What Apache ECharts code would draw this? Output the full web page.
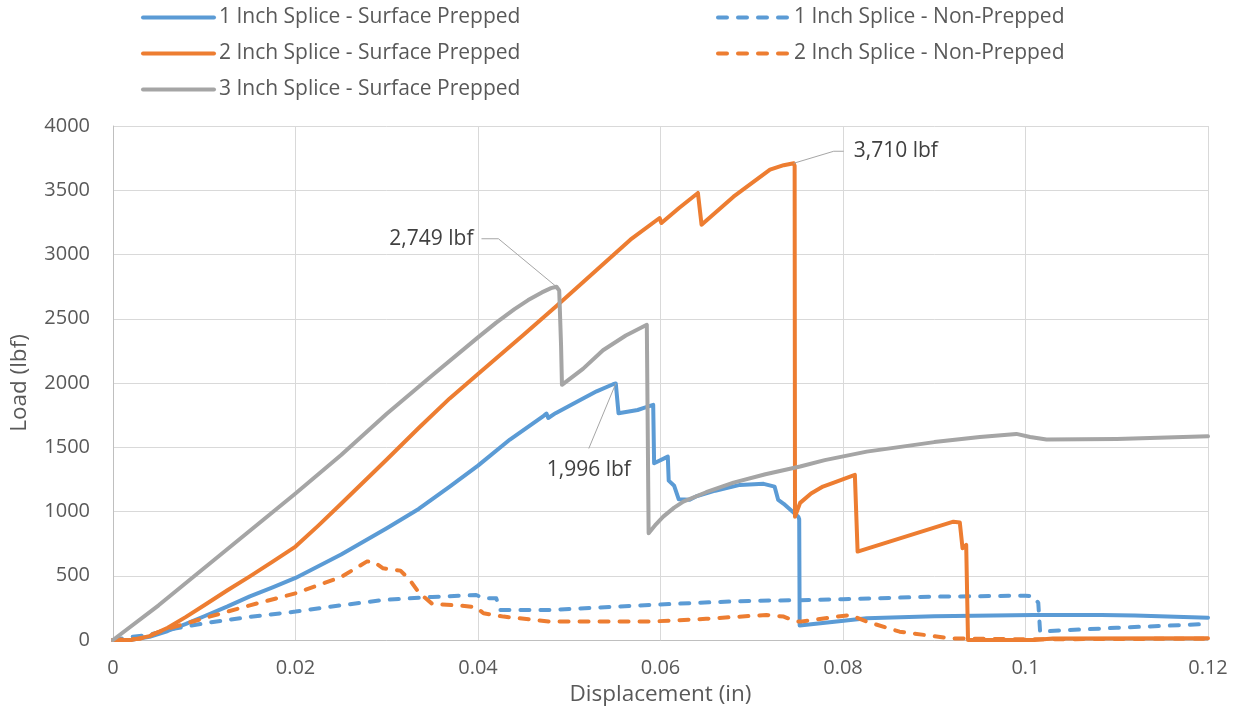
<!DOCTYPE html>
<html>
<head>
<meta charset="utf-8">
<script src="https://cdn.jsdelivr.net/npm/echarts@6/dist/echarts.min.js"></script>
<style>
  html, body { margin: 0; padding: 0; background: #ffffff; }
  #chart { width: 1242px; height: 712px; }
</style>
</head>
<body>
<div id="chart"></div>
<script>
// Splice pull tests: load vs. displacement, one curve per specimen.
const seriesNames = [
  '1 Inch Splice - Surface Prepped',
  '1 Inch Splice - Non-Prepped',
  '2 Inch Splice - Surface Prepped',
  '2 Inch Splice - Non-Prepped',
  '3 Inch Splice - Surface Prepped'
];

// displacement (in), load (lbf)
const oneInchPrepped = [
  [0, 0], [0.002, 2], [0.004, 25], [0.006, 70], [0.008, 125], [0.01, 185],
  [0.0125, 260], [0.015, 340], [0.0175, 410], [0.02, 483], [0.025, 665],
  [0.03, 870], [0.0335, 1020], [0.0369, 1194], [0.04, 1357], [0.0435, 1560],
  [0.0472, 1745], [0.0475, 1762], [0.0477, 1728], [0.0485, 1765], [0.051, 1860],
  [0.053, 1935], [0.0548, 1990], [0.0551, 1996], [0.0554, 1765], [0.0575, 1790],
  [0.0581, 1804], [0.0592, 1830], [0.0593, 1376], [0.0608, 1427], [0.0609, 1240],
  [0.0615, 1200], [0.062, 1095], [0.0632, 1092], [0.064, 1120], [0.066, 1162],
  [0.0687, 1207], [0.0713, 1215], [0.0725, 1194], [0.0729, 1090], [0.0735, 1060],
  [0.0751, 960], [0.0752, 940], [0.07525, 112], [0.0753, 117], [0.0826, 169],
  [0.09, 185], [0.1009, 195], [0.1083, 195], [0.112, 190], [0.12, 174]
];

const oneInchNonPrepped = [
  [0, 0], [0.002, 25], [0.004, 40], [0.0059, 78], [0.01, 130], [0.015, 180],
  [0.02, 221], [0.025, 270], [0.0296, 311], [0.035, 335], [0.0398, 350],
  [0.0406, 325], [0.042, 325], [0.0424, 234], [0.048, 234], [0.0588, 273],
  [0.066, 295], [0.07, 305], [0.0753, 310], [0.08, 318], [0.0899, 337],
  [0.1, 345], [0.1008, 340], [0.1014, 290], [0.1016, 65], [0.104, 75],
  [0.11, 95], [0.12, 125]
];

const twoInchPrepped = [
  [0, 0], [0.002, 0], [0.004, 30], [0.006, 95], [0.008, 180], [0.01, 270],
  [0.0125, 385], [0.015, 495], [0.0175, 610], [0.02, 727], [0.0225, 890],
  [0.025, 1060], [0.03, 1405], [0.0335, 1650], [0.0369, 1880], [0.04, 2070],
  [0.045, 2375], [0.0486, 2600], [0.053, 2880], [0.0567, 3115],
  [0.0599, 3284], [0.0601, 3245], [0.062, 3360], [0.0641, 3479], [0.0645, 3232],
  [0.068, 3450], [0.072, 3660], [0.0735, 3695], [0.0746, 3710], [0.0747, 3690],
  [0.07474, 960], [0.0753, 1067], [0.0765, 1140], [0.0778, 1194], [0.079, 1225],
  [0.0813, 1285], [0.0816, 688], [0.0921, 921], [0.0928, 915], [0.093, 900],
  [0.0931, 714], [0.0935, 740], [0.0937, 0], [0.101, 0], [0.103, 12], [0.12, 13]
];

const twoInchNonPrepped = [
  [0, 0], [0.003, 10], [0.0059, 85], [0.01, 170], [0.015, 270], [0.02, 363],
  [0.025, 490], [0.0278, 610], [0.0285, 612], [0.0296, 558], [0.0315, 540],
  [0.0325, 470], [0.0335, 370], [0.035, 280], [0.038, 268], [0.0398, 255],
  [0.0406, 208], [0.0428, 182], [0.0479, 143], [0.0588, 143], [0.065, 165],
  [0.0716, 195], [0.0735, 182], [0.0749, 143], [0.0753, 143], [0.0808, 195],
  [0.0826, 143], [0.0862, 65], [0.0917, 13], [0.1, 5], [0.11, 8], [0.12, 10]
];

const threeInchPrepped = [
  [0, 0], [0.005, 270], [0.01, 560], [0.015, 850], [0.02, 1140], [0.025, 1440],
  [0.03, 1760], [0.035, 2060], [0.04, 2355], [0.042, 2470], [0.044, 2575],
  [0.0455, 2645], [0.047, 2705], [0.048, 2738], [0.0486, 2749], [0.0489, 2720],
  [0.0491, 2300], [0.0492, 1986], [0.0515, 2110], [0.0537, 2255], [0.0562, 2370],
  [0.0585, 2453], [0.0587, 831], [0.0595, 900], [0.0603, 960], [0.0615, 1030],
  [0.0625, 1077], [0.065, 1150], [0.068, 1225], [0.0715, 1290], [0.0753, 1350],
  [0.078, 1400], [0.0826, 1466], [0.09, 1540], [0.095, 1580], [0.099, 1604],
  [0.1005, 1580], [0.1023, 1560], [0.11, 1565], [0.12, 1585]
];

const xTicks = { min: 0, max: 0.12, interval: 0.02 };
const yTicks = { min: 0, max: 4000, interval: 500 };

const seriesData = [oneInchPrepped, oneInchNonPrepped, twoInchPrepped, twoInchNonPrepped, threeInchPrepped];
const seriesColors = ['#5B9BD5', '#5B9BD5', '#ED7D31', '#ED7D31', '#A5A5A5'];
const seriesDashed = [false, true, false, true, false];

const FONT = '"Open Sans", "Noto Sans", sans-serif';
const TEXT = '#595959';
const LINE_W = 4;
const DASH = [9, 11];

const chart = echarts.init(document.getElementById('chart'), null, { renderer: 'canvas' });

const legendBase = {
  orient: 'vertical',
  top: 3,
  padding: 0,
  itemWidth: 71,
  itemHeight: 14,
  itemGap: 15,
  itemStyle: { opacity: 0 },
  lineStyle: { width: LINE_W, cap: 'round' },
  textStyle: { fontFamily: FONT, fontSize: 21, color: TEXT, lineHeight: 20 },
  selectedMode: false
};

chart.setOption({
  animation: false,
  backgroundColor: '#ffffff',
  grid: { left: 113, right: 34, top: 126, bottom: 72, containLabel: false },
  legend: [
    Object.assign({}, legendBase, { left: 141, top: 7, data: [seriesNames[0], seriesNames[2], seriesNames[4]] }),
    Object.assign({}, legendBase, { left: 716, top: 7, data: [seriesNames[1], seriesNames[3]] })
  ],
  xAxis: {
    type: 'value',
    min: xTicks.min, max: xTicks.max, interval: xTicks.interval,
    name: 'Displacement (in)',
    nameLocation: 'middle',
    nameGap: 41,
    nameTextStyle: { fontFamily: FONT, fontSize: 22.5, color: TEXT },
    axisLine: { show: true, onZero: false, lineStyle: { color: '#bfbfbf', width: 1 } },
    axisTick: { show: false },
    axisLabel: { fontFamily: FONT, fontSize: 20, color: TEXT, margin: 18 },
    splitLine: { show: true, lineStyle: { color: '#d9d9d9', width: 1 } }
  },
  yAxis: {
    type: 'value',
    min: yTicks.min, max: yTicks.max, interval: yTicks.interval,
    name: 'Load (lbf)',
    nameLocation: 'middle',
    nameGap: 82,
    nameTextStyle: { fontFamily: FONT, fontSize: 22.5, color: TEXT },
    axisLine: { show: true, lineStyle: { color: '#bfbfbf', width: 1 } },
    axisTick: { show: false },
    axisLabel: { fontFamily: FONT, fontSize: 20, color: TEXT, margin: 23, formatter: v => String(v) },
    splitLine: { show: true, lineStyle: { color: '#d9d9d9', width: 1 } }
  },
  series: seriesNames.map((name, i) => ({
    name: name,
    type: 'line',
    data: seriesData[i],
    showSymbol: false,
    symbol: 'none',
    smooth: false,
    color: seriesColors[i],
    lineStyle: {
      color: seriesColors[i],
      width: LINE_W,
      type: seriesDashed[i] ? DASH : 'solid',
      cap: 'round',
      join: 'round'
    },
    z: 2 + i
  }))
});

// Peak-value callouts with thin leader lines
const callouts = [
  { series: 4, elbow: [-58, -48], end: [-75, -48], text: [-83, -48], align: 'right' },
  { series: 2, elbow: [40, -12], end: [50, -12], text: [60, -12], align: 'left' },
  { series: 0, elbow: [-27, 65], end: null, text: [-27, 87], align: 'center' }
];

const graphics = [];
callouts.forEach(c => {
  const data = seriesData[c.series];
  let peak = data[0];
  data.forEach(p => { if (p[1] > peak[1]) peak = p; });
  const px = chart.convertToPixel({ gridIndex: 0 }, peak);
  const pts = [[px[0], px[1]], [px[0] + c.elbow[0], px[1] + c.elbow[1]]];
  if (c.end) pts.push([px[0] + c.end[0], px[1] + c.end[1]]);
  graphics.push({
    type: 'polyline',
    shape: { points: pts },
    style: { stroke: '#a6a6a6', lineWidth: 1, fill: null },
    z: 20
  });
  graphics.push({
    type: 'text',
    x: px[0] + c.text[0],
    y: px[1] + c.text[1],
    style: {
      text: peak[1].toLocaleString('en-US') + ' lbf',
      fill: '#404040',
      font: '21px ' + FONT,
      textAlign: c.align,
      textVerticalAlign: 'middle'
    },
    z: 20
  });
});
chart.setOption({ graphic: graphics });
</script>
</body>
</html>
